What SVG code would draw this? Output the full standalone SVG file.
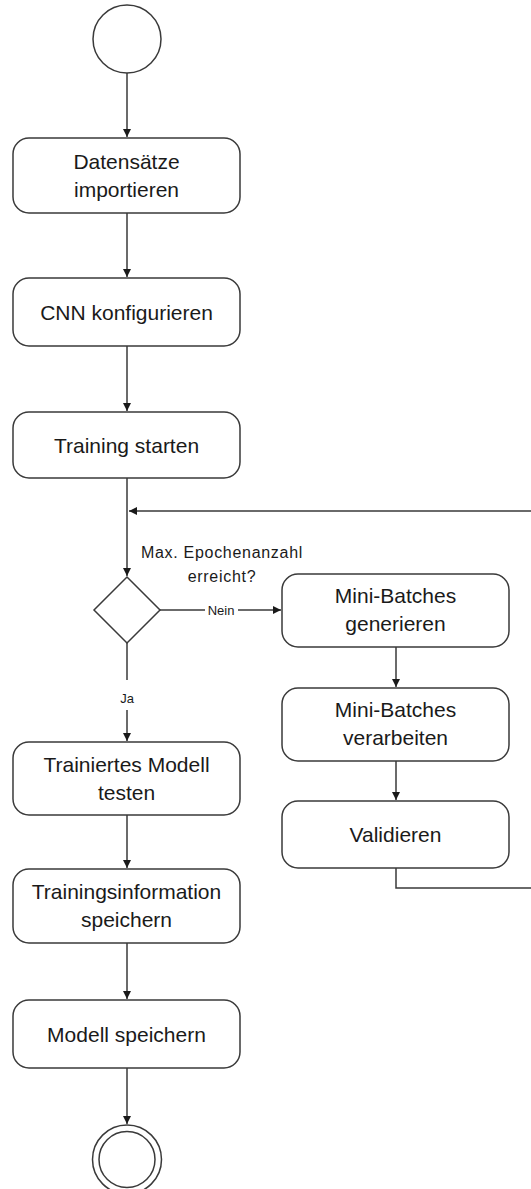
<svg xmlns="http://www.w3.org/2000/svg" width="531" height="1189" viewBox="0 0 531 1189">
<style>
.n{fill:#fff;stroke:#3a3a3a;stroke-width:1.5}
.t{font-family:"Liberation Sans",Arial,sans-serif;font-size:21px;fill:#1a1a1a;text-anchor:middle}
.l{font-family:"Liberation Sans",Arial,sans-serif;font-size:16px;fill:#1a1a1a;text-anchor:middle;letter-spacing:0.7px}
.s{font-family:"Liberation Sans",Arial,sans-serif;font-size:13px;fill:#1a1a1a;text-anchor:middle}
.c{fill:none;stroke:#3a3a3a;stroke-width:1.5}
</style>
<defs>
<marker id="a" viewBox="0 0 10 10" refX="10" refY="5" markerWidth="8" markerHeight="8" markerUnits="userSpaceOnUse" orient="auto">
<path d="M0,0 L10,5 L0,10 z" fill="#1a1a1a"/>
</marker>
</defs>
<rect width="531" height="1189" fill="#fff"/>
<g id="connectors">
<line class="c" x1="127" y1="73" x2="127" y2="137" marker-end="url(#a)"/>
<line class="c" x1="127" y1="213" x2="127" y2="277" marker-end="url(#a)"/>
<line class="c" x1="127" y1="346" x2="127" y2="411" marker-end="url(#a)"/>
<line class="c" x1="127" y1="478" x2="127" y2="576" marker-end="url(#a)"/>
<path class="c" d="M396,868 V888 H545 V511 H129" marker-end="url(#a)"/>
<line class="c" x1="160" y1="610" x2="281" y2="610" marker-end="url(#a)"/>
<rect x="205" y="603" width="33" height="14" fill="#fff"/>
<text class="s" x="221" y="615">Nein</text>
<line class="c" x1="127" y1="643" x2="127" y2="741" marker-end="url(#a)"/>
<rect x="117" y="680" width="20" height="30" fill="#fff"/>
<text class="s" x="127" y="703">Ja</text>
<line class="c" x1="396" y1="647" x2="396" y2="687" marker-end="url(#a)"/>
<line class="c" x1="396" y1="761" x2="396" y2="800" marker-end="url(#a)"/>
<line class="c" x1="127" y1="815" x2="127" y2="868" marker-end="url(#a)"/>
<line class="c" x1="127" y1="943" x2="127" y2="999" marker-end="url(#a)"/>
<line class="c" x1="127" y1="1068" x2="127" y2="1124" marker-end="url(#a)"/>
</g>
<g id="start"><circle class="n" cx="127" cy="39" r="34"/></g>
<g id="n1"><rect class="n" x="13" y="138" width="227" height="75" rx="16"/>
<text class="t" x="126.5" y="169">Datensätze</text><text class="t" x="126.5" y="197">importieren</text></g>
<g id="n2"><rect class="n" x="13" y="278" width="227" height="68" rx="16"/>
<text class="t" x="126.5" y="320">CNN konfigurieren</text></g>
<g id="n3"><rect class="n" x="13" y="412" width="227" height="66" rx="16"/>
<text class="t" x="126.5" y="453">Training starten</text></g>
<g id="decision"><polygon class="n" points="127,577 160,610 127,643 94,610"/>
<text class="l" x="222" y="558">Max. Epochenanzahl</text>
<text class="l" x="222" y="582">erreicht?</text></g>
<g id="n4"><rect class="n" x="282" y="574" width="227" height="73" rx="16"/>
<text class="t" x="395.5" y="603">Mini-Batches</text><text class="t" x="395.5" y="631">generieren</text></g>
<g id="n5"><rect class="n" x="282" y="688" width="227" height="73" rx="16"/>
<text class="t" x="395.5" y="717">Mini-Batches</text><text class="t" x="395.5" y="745">verarbeiten</text></g>
<g id="n6"><rect class="n" x="282" y="801" width="227" height="67" rx="16"/>
<text class="t" x="395.5" y="842">Validieren</text></g>
<g id="n7"><rect class="n" x="13" y="742" width="227" height="73" rx="16"/>
<text class="t" x="126.5" y="772">Trainiertes Modell</text><text class="t" x="126.5" y="800">testen</text></g>
<g id="n8"><rect class="n" x="13" y="869" width="227" height="74" rx="16"/>
<text class="t" x="126.5" y="899">Trainingsinformation</text><text class="t" x="126.5" y="927">speichern</text></g>
<g id="n9"><rect class="n" x="13" y="1000" width="227" height="68" rx="16"/>
<text class="t" x="126.5" y="1042">Modell speichern</text></g>
<g id="end"><circle class="n" cx="127" cy="1159.5" r="34.5"/><circle class="n" cx="127" cy="1159.5" r="28"/></g>
</svg>
